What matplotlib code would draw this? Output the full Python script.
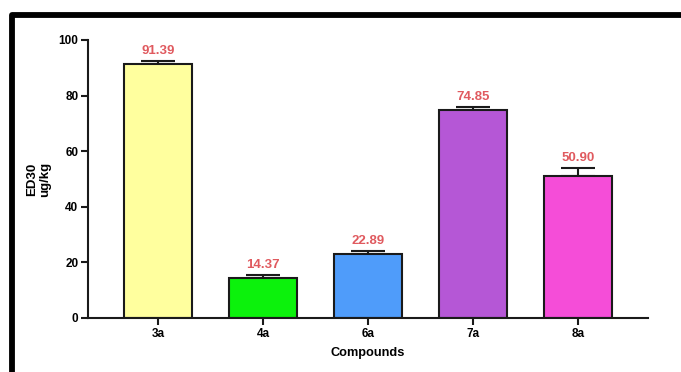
import numpy as np
import matplotlib
matplotlib.use('Agg')
import matplotlib.pyplot as plt
from matplotlib.patches import Rectangle

compounds = ['3a', '4a', '6a', '7a', '8a']
ed30 = [91.39, 14.37, 22.89, 74.85, 50.90]
sem = [1.0, 1.1, 1.2, 1.05, 3.1]
bar_colors = ['#FFFF9E', '#0CF20C', '#4F9CFA', '#B557D6', '#F54DD8']
yticks = [0, 20, 40, 60, 80, 100]

plt.rcParams['font.family'] = ['Liberation Sans', 'DejaVu Sans']
plt.rcParams['font.weight'] = 'bold'

fig = plt.figure(figsize=(6.81, 3.72), dpi=100)
ax = fig.add_axes([88 / 681, 1 - 318 / 372, 560 / 681, 278 / 372])

x = np.arange(len(compounds))
ax.bar(x, ed30, width=0.65, color=bar_colors, edgecolor='#1a1a1a', linewidth=1.5, zorder=2)
ax.errorbar(x, ed30, yerr=[np.zeros(len(sem)), sem], fmt='none', ecolor='#1a1a1a',
            elinewidth=1.5, capsize=12, capthick=1.5, zorder=1)

# value labels above the error caps
for xi, v, e in zip(x, ed30, sem):
    ax.annotate(f'{v:.2f}', (xi, v + e), xytext=(0, 3), textcoords='offset points',
                ha='center', va='bottom', color='#E05A5F', fontsize=9.5, fontweight='bold')

ax.set_xlim(-0.667, 4.667)
ax.set_ylim(0, 100)
ax.set_xticks(x)
ax.set_xticklabels(compounds, fontsize=8.5, fontweight='bold')
ax.set_yticks(yticks)
ax.set_yticklabels([str(t) for t in yticks], fontsize=8.5, fontweight='bold')
ax.tick_params(axis='both', direction='out', length=5, width=1.5, color='#1a1a1a', pad=2)

for s in ['top', 'right']:
    ax.spines[s].set_visible(False)
for s in ['left', 'bottom']:
    ax.spines[s].set_linewidth(1.5)
    ax.spines[s].set_color('#1a1a1a')

ax.set_xlabel('Compounds', fontsize=9.2, fontweight='bold', labelpad=5)
ax.set_ylabel('ED30\nug/kg', fontsize=9.5, fontweight='bold', labelpad=5, linespacing=1.1)

# thick black frame around the picture
frame = Rectangle((11.5 / 681, -0.2), 1.1, 1.2 - 14.5 / 372, transform=fig.transFigure,
                  fill=False, edgecolor='black', linewidth=4.2, joinstyle='round')
fig.patches.append(frame)

fig.savefig('out.png', dpi=100)
